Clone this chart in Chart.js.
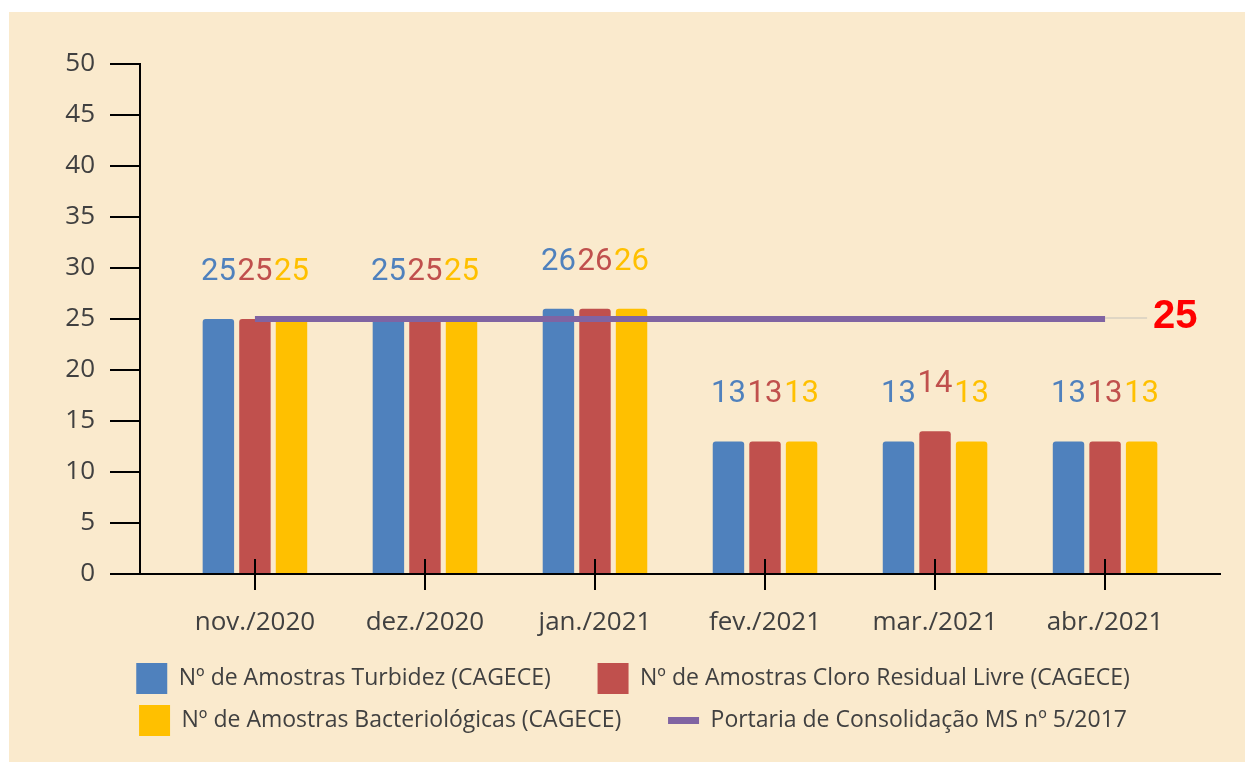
<!DOCTYPE html>
<html><head><meta charset="utf-8">
<script src="https://cdn.jsdelivr.net/npm/chart.js@4"></script>
<style>
html,body{margin:0;padding:0;background:#fff;}
#wrap{position:absolute;left:9px;top:12px;width:1236px;height:750px;background:#FAEACD;}
canvas{display:block;}
</style></head><body>
<div id="wrap"><canvas id="c" width="1236" height="750"></canvas></div>
<script>
const categories = ['nov./2020','dez./2020','jan./2021','fev./2021','mar./2021','abr./2021'];
const turbidez = [25,25,26,13,13,13];
const cloro = [25,25,26,13,14,13];
const bacteriologicas = [25,25,26,13,13,13];
const portaria = [25,25,25,25,25,25];
const seriesNames = [
  'Nº de Amostras Turbidez (CAGECE)',
  'Nº de Amostras Cloro Residual Livre (CAGECE)',
  'Nº de Amostras Bacteriológicas (CAGECE)',
  'Portaria de Consolidação MS nº 5/2017'
];
const colors = ['#4F81BD','#C0504D','#FFC000','#8064A2'];
const yMin = 0, yMax = 50, yStep = 5;

const toPts = arr => arr.map((v,i)=>({x:i,y:v}));
const TEXT = '#404040';

const barLabels = {
  id:'barLabels',
  afterDatasetsDraw(chart){
    const ctx = chart.ctx;
    ctx.save();
    ctx.font = '31px Roboto';
    ctx.textAlign = 'center';
    ctx.textBaseline = 'alphabetic';
    chart.data.datasets.forEach((ds,di)=>{
      if (ds.type === 'line') return;
      const meta = chart.getDatasetMeta(di);
      ctx.fillStyle = ds.backgroundColor;
      meta.data.forEach((el,i)=>{
        ctx.fillText(String(ds.data[i].y), el.x, el.y - 39);
      });
    });
    // end label of the reference line
    const li = chart.data.datasets.findIndex(d=>d.type==='line');
    const lm = chart.getDatasetMeta(li);
    const last = lm.data[lm.data.length-1];
    ctx.strokeStyle = 'rgba(205,200,190,0.8)';
    ctx.lineWidth = 1.5;
    ctx.beginPath();
    ctx.moveTo(last.x, last.y - 1);
    ctx.lineTo(last.x + 42, last.y - 1);
    ctx.stroke();
    ctx.fillStyle = '#FF0000';
    ctx.font = 'bold 40px "Liberation Sans", Arial';
    ctx.textAlign = 'left';
    ctx.textBaseline = 'middle';
    ctx.fillText(String(chart.data.datasets[li].data[lm.data.length-1].y), last.x + 48, last.y - 2);
    ctx.restore();
  },
  afterDraw(chart){
    const ctx = chart.ctx;
    const xs = chart.scales.x;
    const bottom = chart.chartArea.bottom;
    ctx.save();
    ctx.strokeStyle = '#000';
    ctx.lineWidth = 2;
    xs.ticks.forEach((t,i)=>{
      const px = Math.round(xs.getPixelForTick(i));
      ctx.beginPath();
      ctx.moveTo(px, bottom - 15);
      ctx.lineTo(px, bottom);
      ctx.stroke();
    });
    // legend marker for the line series
    const lg = chart.legend;
    lg.legendItems.forEach((it,i)=>{
      if (it.datasetIndex === 3) {
        const hb = lg.legendHitBoxes[i];
        ctx.fillStyle = colors[3];
        ctx.fillRect(hb.left, hb.top + 31/2 - 3.5, 31, 7);
      }
    });
    ctx.restore();
  }
};

new Chart(document.getElementById('c'), {
  type:'bar',
  data:{
    datasets:[
      {label:seriesNames[0], data:toPts(turbidez), backgroundColor:colors[0], borderRadius:3, order:1},
      {label:seriesNames[1], data:toPts(cloro), backgroundColor:colors[1], borderRadius:3, order:1},
      {label:seriesNames[2], data:toPts(bacteriologicas), backgroundColor:colors[2], borderRadius:3, order:1},
      {type:'line', label:seriesNames[3], data:toPts(portaria), borderColor:colors[3], backgroundColor:colors[3], borderWidth:6, pointRadius:0, order:0, tension:0}
    ]
  },
  options:{
    responsive:false,
    animation:false,
    devicePixelRatio:1,
    categoryPercentage:0.645,
    barPercentage:0.86,
    layout:{padding:{left:37,right:25,top:52,bottom:16}},
    plugins:{
      tooltip:{enabled:false},
      legend:{
        position:'bottom',
        labels:{
          font:{family:'"Open Sans"', size:23},
          color:TEXT,
          boxWidth:31, boxHeight:31,
          padding:11,
          useBorderRadius:true, borderRadius:4,
          sort:(a,b)=>a.datasetIndex-b.datasetIndex,
          generateLabels(chart){
            return chart.data.datasets.map((ds,i)=>({
              text: (i===0||i===2) ? ds.label + '      ' : ds.label,
              fillStyle: i===3 ? 'rgba(0,0,0,0)' : ds.backgroundColor,
              strokeStyle: 'rgba(0,0,0,0)',
              lineWidth: 0,
              fontColor: TEXT,
              hidden:false,
              datasetIndex:i
            }));
          }
        }
      }
    },
    scales:{
      x:{
        type:'linear',
        offset:false,
        min:-0.676, max:5.676,
        afterBuildTicks(s){ s.ticks = categories.map((c,i)=>({value:i})); },
        afterFit(s){ s.height = 78; },
        border:{display:true, color:'#000', width:2, z:1},
        grid:{offset:false, drawOnChartArea:false, drawTicks:true, tickLength:16, color:'#000', lineWidth:2, z:1},
        ticks:{
          autoSkip:false, maxRotation:0, padding:17,
          font:{family:'"Open Sans"', size:26}, color:TEXT,
          callback:(v)=>categories[Math.round(v)]
        }
      },
      y:{
        min:yMin, max:yMax,
        afterFit(s){ s.width = 94; },
        border:{display:true, color:'#000', width:2},
        grid:{drawOnChartArea:false, drawTicks:true, tickLength:30, color:'#000', lineWidth:2},
        ticks:{stepSize:yStep, padding:15, font:{family:'"Open Sans"', size:26}, color:TEXT}
      }
    }
  },
  plugins:[barLabels]
});
</script>
</body></html>
